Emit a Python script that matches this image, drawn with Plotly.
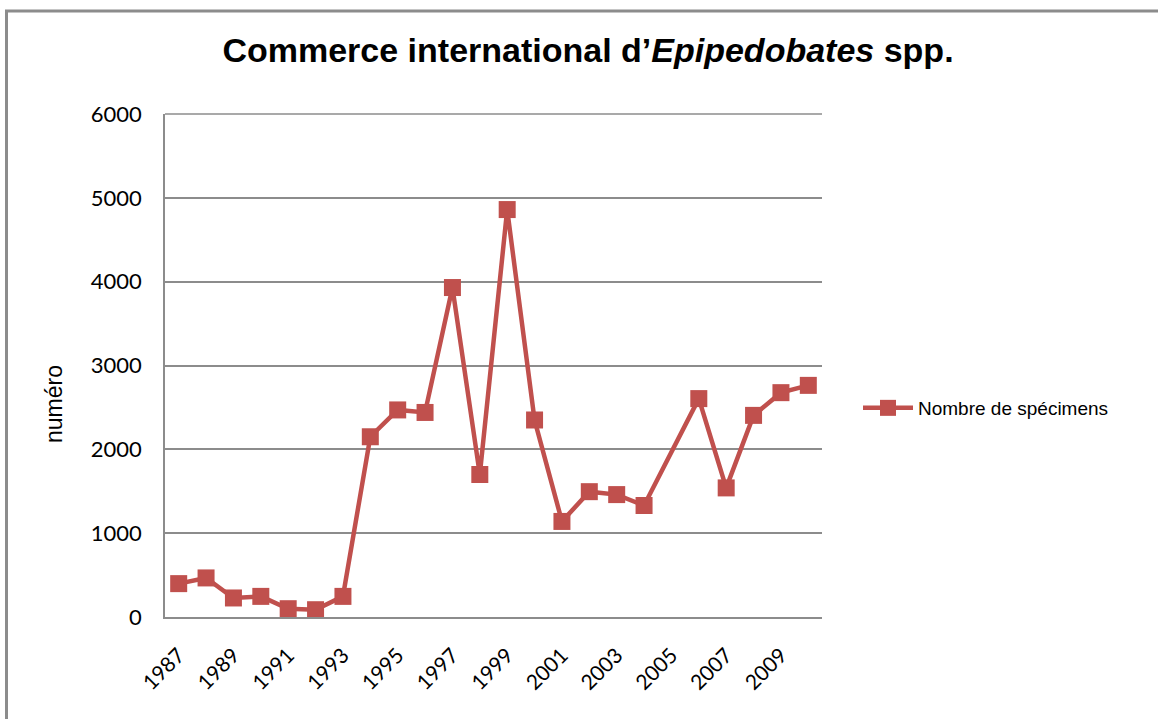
import plotly.graph_objects as go

years = list(range(1987, 2011))
specimens = [398, 466, 227, 246, 99, 87, 246, 2150, 2470, 2440, 3930, 1700,
             4860, 2350, 1140, 1495, 1460, 1330, None, 2605, 1540, 2405, 2676, 2763]
series_name = "Nombre de spécimens"
x_tick_vals = [1987, 1989, 1991, 1993, 1995, 1997, 1999, 2001, 2003, 2005, 2007, 2009]
x_tick_text = [str(v) for v in x_tick_vals]
y_tick_vals = [0, 1000, 2000, 3000, 4000, 5000, 6000]

W, H = 1158, 719
L, R, T, B = 165, 822, 114, 617
pw, ph = R - L, B - T

def px(x):
    return (x - L) / pw

def py(y):
    return (B - y) / ph

red = "#C0504D"
grid = "#8C8C8C"

fig = go.Figure()
fig.add_trace(go.Scatter(
    x=years, y=specimens, name=series_name, mode="lines+markers",
    connectgaps=True,
    line=dict(color=red, width=4.5),
    marker=dict(symbol="square", size=17, color=red),
    showlegend=True,
))

fig.update_layout(
    width=W, height=H,
    margin=dict(l=L, r=W - R, t=T, b=H - B, pad=0),
    paper_bgcolor="white", plot_bgcolor="white",
    title=dict(
        text="<b>Commerce international d’<i>Epipedobates</i> spp.</b>",
        font=dict(family="Liberation Sans, Arial", size=34, color="black"),
        x=588 / W, xref="container", xanchor="center",
        y=1 - 50 / H, yref="container", yanchor="middle",
    ),
    xaxis=dict(
        range=[1986.5, 2010.5], tickmode="array", tickvals=x_tick_vals, ticktext=x_tick_text,
        tickangle=-45, showgrid=False, zeroline=False, showline=True, linecolor=grid, linewidth=1.5,
        ticks="", ticklabelstandoff=16,
        tickfont=dict(family="Lato, Carlito, Calibri", size=21, color="black"),
    ),
    yaxis=dict(
        range=[0, 6000], tickmode="array", tickvals=y_tick_vals,
        showgrid=True, gridcolor=grid, gridwidth=1.5, zeroline=False,
        showline=True, linecolor=grid, linewidth=1.5, ticks="",
        ticklabelstandoff=17,
        tickfont=dict(family="Lato, Carlito, Calibri", size=22, color="black"),
    ),
    legend=dict(
        x=px(858), y=py(408), xanchor="left", yanchor="middle",
        font=dict(family="Liberation Sans, Arial", size=19, color="black"),
        bgcolor="rgba(0,0,0,0)", itemwidth=50,
    ),
    annotations=[dict(
        text="numéro", xref="paper", yref="paper", x=px(54), y=py(404),
        xanchor="center", yanchor="middle", textangle=-90, showarrow=False,
        font=dict(family="Liberation Sans, Arial", size=23, color="black"),
    )],
    shapes=[
        dict(type="line", xref="paper", yref="paper", x0=0, x1=1,
             y0=1, y1=1, line=dict(color=grid, width=1.5)),
        dict(type="line", xref="paper", yref="paper", x0=px(6.5), x1=px(6.5),
             y0=py(11), y1=py(760), line=dict(color="#8C8C8C", width=3)),
        dict(type="line", xref="paper", yref="paper", x0=px(5), x1=px(1170),
             y0=py(11), y1=py(11), line=dict(color="#8C8C8C", width=3)),
    ],
)

fig.write_html("out.html")
